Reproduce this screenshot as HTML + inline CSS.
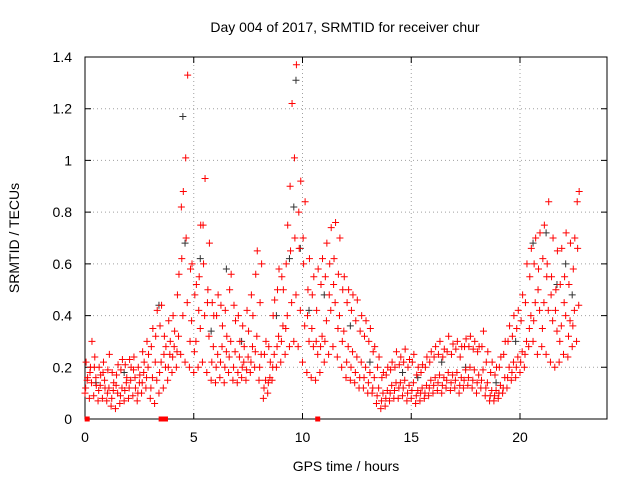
<!DOCTYPE html>
<html><head><meta charset="utf-8"><style>
body{margin:0;background:#fff}
svg text{font-family:"Liberation Sans",sans-serif;font-size:14px;fill:#000}
</style></head><body>
<svg id="chart" width="640" height="480" viewBox="0 0 640 480" xmlns="http://www.w3.org/2000/svg">
<rect width="640" height="480" fill="#fff"/>
<text x="345" y="32" text-anchor="middle">Day 004 of 2017, SRMTID for receiver chur</text>
<text x="346" y="471" text-anchor="middle">GPS time / hours</text>
<text transform="translate(19,238) rotate(-90)" text-anchor="middle">SRMTID / TECUs</text>
<g id="grid"></g><g id="axes"></g><g id="pts"></g>
</svg>
<script>
const xTicks=[0,5,10,15,20];
const yTicks=[0,0.2,0.4,0.6,0.8,1,1.2,1.4];
const yTickLabels=["0","0.2","0.4","0.6","0.8","1","1.2","1.4"];
const hours=[0.0,0.2,0.4,0.6,0.8,1.0,1.2,1.4,1.6,1.8,2.0,2.2,2.4,2.6,2.8,3.0,3.2,3.4,3.6,3.8,4.0,4.2,4.4,4.6,4.8,5.0,5.2,5.4,5.6,5.8,6.0,6.2,6.4,6.6,6.8,7.0,7.2,7.4,7.6,7.8,8.0,8.2,8.4,8.6,8.8,9.0,9.2,9.4,9.6,9.8,10.0,10.2,10.4,10.6,10.8,11.0,11.2,11.4,11.6,11.8,12.0,12.2,12.4,12.6,12.8,13.0,13.2,13.4,13.6,13.8,14.0,14.2,14.4,14.6,14.8,15.0,15.2,15.4,15.6,15.8,16.0,16.2,16.4,16.6,16.8,17.0,17.2,17.4,17.6,17.8,18.0,18.2,18.4,18.6,18.8,19.0,19.2,19.4,19.6,19.8,20.0,20.2,20.4,20.6,20.8,21.0,21.2,21.4,21.6,21.8,22.0,22.2,22.4,22.6];
const seriesA=[.10,.08,.09,.07,.08,.07,.05,.04,.06,.07,.08,.09,.07,.10,.12,.08,.06,.10,.12,.15,.18,.20,.25,.22,.20,.18,.20,.22,.18,.15,.14,.16,.14,.18,.15,.14,.16,.15,.18,.20,.15,.08,.10,.15,.20,.22,.25,.28,.30,.28,.22,.18,.16,.15,.18,.22,.25,.28,.24,.20,.16,.15,.14,.12,.12,.10,.10,.06,.04,.05,.07,.08,.08,.09,.07,.08,.06,.07,.08,.09,.10,.11,.10,.12,.11,.12,.10,.12,.13,.12,.10,.12,.09,.07,.07,.08,.10,.12,.15,.16,.18,.20,.28,.30,.25,.28,.25,.22,.20,.22,.25,.24,.28,.30];
const seriesB=[.15,.14,.16,.13,.15,.12,.11,.10,.12,.14,.15,.16,.14,.18,.20,.16,.15,.22,.20,.25,.28,.32,.40,.45,.38,.30,.35,.40,.32,.28,.25,.28,.26,.30,.26,.24,.22,.24,.28,.32,.25,.15,.16,.25,.32,.36,.40,.45,.48,.42,.36,.30,.28,.25,.32,.38,.42,.45,.40,.34,.28,.26,.24,.22,.20,.18,.16,.12,.10,.11,.13,.14,.14,.15,.13,.14,.11,.12,.13,.15,.16,.17,.16,.18,.17,.18,.16,.19,.20,.19,.17,.19,.14,.11,.11,.13,.16,.20,.22,.24,.26,.30,.40,.45,.42,.45,.42,.38,.34,.36,.40,.38,.42,.44];
const seriesC=[.22,.20,.24,.20,.22,.19,.18,.17,.19,.21,.23,.24,.20,.26,.30,.28,.32,.36,.32,.38,.40,.48,.62,.70,.58,.48,.55,.60,.50,.45,.40,.44,.42,.50,.44,.40,.36,.42,.48,.56,.45,.25,.28,.40,.50,.55,.60,.65,.70,.66,.60,.50,.48,.42,.52,.55,.60,.62,.56,.50,.45,.42,.38,.34,.32,.30,.26,.20,.16,.17,.19,.20,.21,.22,.20,.22,.17,.18,.20,.22,.24,.25,.24,.26,.25,.27,.24,.28,.28,.27,.26,.28,.22,.18,.17,.20,.25,.30,.32,.35,.38,.45,.55,.60,.58,.62,.60,.55,.50,.52,.55,.52,.58,.66];
const seriesD=[.16,.30,.13,.17,.12,.25,.14,.21,.23,.16,.20,.12,.17,.22,.25,.35,.42,.44,.28,.30,.34,.56,.88,1.33,.60,.52,.75,.93,.68,.40,.48,.36,.32,.56,.38,.30,.28,.34,.40,.65,.60,.30,.22,.46,.58,.50,.75,1.22,1.37,.92,.84,.62,.55,.58,.62,.68,.74,.76,.70,.55,.50,.48,.46,.40,.38,.35,.28,.24,.18,.20,.22,.26,.24,.27,.23,.25,.20,.21,.24,.26,.28,.30,.27,.32,.29,.30,.28,.31,.32,.30,.28,.34,.26,.22,.20,.24,.30,.36,.40,.42,.48,.60,.66,.70,.72,.75,.84,.70,.65,.66,.72,.68,.70,.88];
const seriesE=[.12,.18,.20,.11,.18,.10,.08,.13,.09,.11,.12,.19,.10,.14,.16,.12,.22,.18,.25,.20,.24,.26,.82,1.01,.30,.26,.42,.75,.45,.22,.20,.22,.20,.24,.20,.18,.20,.19,.22,.26,.20,.12,.14,.20,.28,.30,.35,.90,1.01,.80,.70,.40,.35,.30,.28,.30,.48,.52,.35,.30,.22,.20,.18,.16,.16,.14,.12,.09,.07,.08,.10,.11,.12,.12,.10,.11,.09,.10,.10,.12,.13,.14,.13,.15,.14,.15,.13,.15,.16,.15,.14,.15,.12,.09,.09,.10,.12,.16,.18,.20,.22,.25,.35,.38,.50,.35,.55,.48,.42,.30,.45,.32,.36,.84];
const blackHours=[0.5,1.8,3.4,4.5,4.6,5.3,5.8,6.5,7.2,8.8,9.4,9.6,9.7,9.9,10.3,11.0,12.2,13.1,14.6,15.3,16.4,17.5,18.9,19.8,20.6,21.2,21.7,22.1,22.4];
const blackVals=[.14,.18,.44,1.17,.68,.62,.34,.58,.30,.40,.62,.82,1.31,.66,.42,.48,.36,.22,.18,.16,.22,.20,.14,.30,.68,.72,.52,.60,.48];
const axisMarkHours=[0.1,3.5,3.7,10.7];
const axisMarkVals=[0,0,0,0];

const L=85,R=607,T=57,B=419,xMax=24,yMax=1.4;
const sx=v=>L+v/xMax*(R-L), sy=v=>B-v/yMax*(B-T);
const NS="http://www.w3.org/2000/svg";
function mk(tag,attrs,parent){const e=document.createElementNS(NS,tag);for(const k in attrs)e.setAttribute(k,attrs[k]);parent.appendChild(e);return e;}
const grid=document.getElementById('grid'),axes=document.getElementById('axes'),pts=document.getElementById('pts');
xTicks.forEach(t=>{
 if(t>0){const g=mk('line',{x1:sx(t),x2:sx(t),y1:T,y2:B,stroke:'#a0a0a0','stroke-dasharray':'1,3','stroke-width':1},grid);
 
 }
 const tk=mk('path',{d:`M${sx(t)},${B}v-6M${sx(t)},${T}v6`,stroke:'#000'},axes);
 
 
 const lb=mk('text',{x:sx(t),y:B+23,'text-anchor':'middle'},axes);lb.textContent=t;
 
 
});
yTicks.forEach((t,i)=>{
 if(t>0&&t<yMax){const g=mk('line',{x1:L,x2:R,y1:sy(t),y2:sy(t),stroke:'#a0a0a0','stroke-dasharray':'1,3','stroke-width':1},grid);
 
 }
 const tk=mk('path',{d:`M${L},${sy(t)}h6M${R},${sy(t)}h-6`,stroke:'#000'},axes);
 
 
 const lb=mk('text',{x:L-13,y:sy(t)+5,'text-anchor':'end'},axes);lb.textContent=yTickLabels[i];
 
 
});
const fr=mk('rect',{x:L,y:T,width:R-L,height:B-T,fill:'none',stroke:'#000'},axes);


function plus(h,v,col,name){
 const x=sx(h),y=sy(v);
 const p=mk('path',{d:`M${x-3.5},${y}h7M${x},${y-3.5}v7`,stroke:col,'stroke-width':1},pts);
 
 
}
blackHours.forEach((h,i)=>plus(h,blackVals[i],'#333','black-point'));
const red=[[seriesA,0],[seriesB,0.1],[seriesC,0.05],[seriesD,0.12],[seriesE,0.03]];
red.forEach(([arr,off])=>hours.forEach((h,i)=>plus(h+off,arr[i],'#f00','red-point')));
axisMarkHours.forEach((h,i)=>{
 const r=mk('rect',{x:sx(h)-2.5,y:sy(axisMarkVals[i])-2.5,width:5,height:5,fill:'#f00'},pts);
 
 
});
</script>
</body></html>
